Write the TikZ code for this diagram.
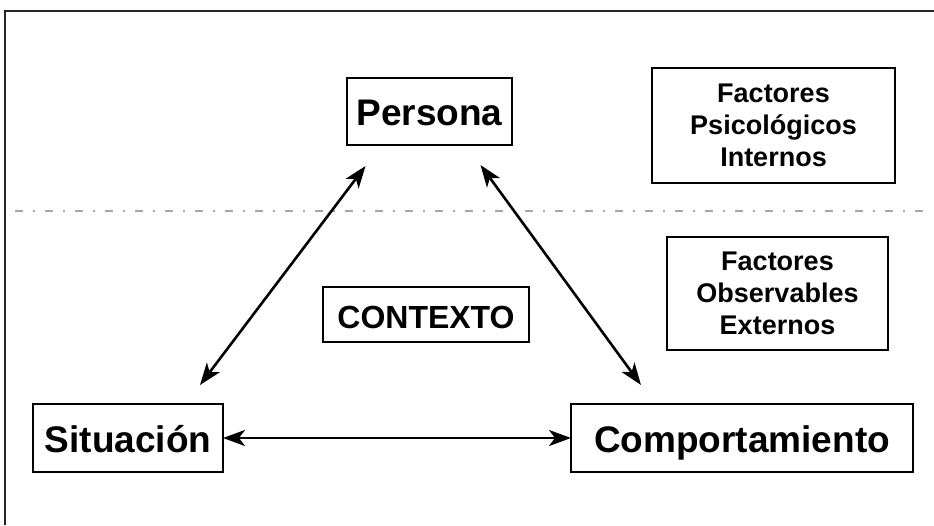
\documentclass[tikz,border=0pt]{standalone}
\usepackage{fontspec}
\setmainfont{Liberation Sans}
\usepackage{tikz}
\usetikzlibrary{arrows.meta, positioning, calc}
\tikzset{
    box/.style={
        rectangle,
        draw=black,
        line width=2.2pt,
        outer sep=0pt,
        inner sep=0pt,
        align=center,
    },
    big/.style={
        font=\fontsize{37}{40}\selectfont\bfseries,
        minimum height=68pt,
        text height=31pt,
        text depth=3pt,
    },
    factor/.style={
        font=\fontsize{27}{32}\selectfont\bfseries,
    },
    dbl/.style={
        line width=2.6pt,
        arrows={Stealth[length=22pt,width=16pt,inset=6pt]-Stealth[length=22pt,width=16pt,inset=6pt]},
    },
}

\begin{document}
\begin{tikzpicture}[x=1pt, y=-1pt]
      \useasboundingbox (0,0) rectangle (934,525);

      % frame and separation line
      \draw[line width=2.2pt, black!85] (5,525) -- (5,11) -- (934,11);
      \draw[line width=1.5pt, black!35, dash pattern=on 8pt off 10pt on 2pt off 10pt] (15,211) -- (932,211);

      \node[box, big, minimum width=165pt, minimum height=67pt] (persona) at (429.5,111.5) {Persona};

      \node[box, big, minimum width=190pt] (situacion) at (128,438) {Situación};

      \node[box, big, minimum width=342pt] (comport) at (742,438) {Comportamiento};

      \node[box, font=\fontsize{32}{34}\selectfont\bfseries, minimum width=206pt, minimum height=55pt, text height=30pt, text depth=3pt] (contexto) at (426,314.5) {CONTEXTO};

      \node[box, factor, minimum width=243pt, minimum height=115pt] (internos) at (773.5,125.5) {Factores\\Psicológicos\\Internos};

      \node[box, factor, minimum width=221pt, minimum height=113pt] (externos) at (777.5,293.5) {Factores\\Observables\\Externos};

      \coordinate (pl) at ([xshift=-64pt, yshift=-21pt]persona.south);
      \coordinate (pr) at ([xshift=51pt, yshift=-20pt]persona.south);
      \coordinate (sl) at ([xshift=72pt, yshift=19pt]situacion.north);
      \coordinate (cr) at ([xshift=-101pt, yshift=19pt]comport.north);

      \draw[dbl] (pl) -- (sl);
      \draw[dbl] (pr) -- (cr);
      \draw[dbl] (situacion) -- (comport);

    \end{tikzpicture}
\end{document}
